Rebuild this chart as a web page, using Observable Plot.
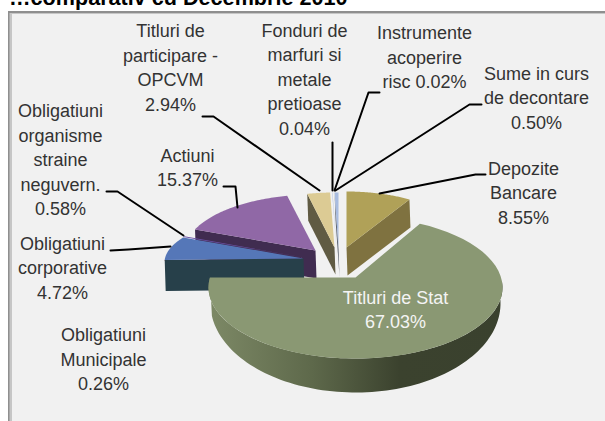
<!DOCTYPE html>
<html>
<head>
<meta charset="utf-8">
<script src="https://cdn.jsdelivr.net/npm/d3@7"></script>
<script src="https://cdn.jsdelivr.net/npm/@observablehq/plot@0.6"></script>
<style>
html,body{margin:0;padding:0;background:#fff;overflow:hidden;width:605px;height:421px}
#title{position:absolute;left:9px;top:-12.5px;font:bold 21.6px "Liberation Sans",Arial,sans-serif;color:#000;white-space:nowrap;line-height:20px}
#chart{position:absolute;left:0;top:11px}
</style>
</head>
<body>
<div id="title">…comparativ cu Decembrie 2010</div>
<div id="chart"></div>
<script>
// Data
const categories = ["Depozite Bancare","Titluri de Stat","Obligatiuni Municipale","Obligatiuni corporative","Obligatiuni organisme straine neguvern.","Actiuni","Titluri de participare - OPCVM","Fonduri de marfuri si metale pretioase","Instrumente acoperire risc","Sume in curs de decontare"];
const shares = [8.55,67.03,0.26,4.72,0.58,15.37,2.94,0.04,0.02,0.50];
const labels = ["Depozite\nBancare\n8.55%","Titluri de Stat\n67.03%","Obligatiuni\nMunicipale\n0.26%","Obligatiuni\ncorporative\n4.72%","Obligatiuni\norganisme\nstraine\nneguvern.\n0.58%","Actiuni\n15.37%","Titluri de\nparticipare -\nOPCVM\n2.94%","Fonduri de\nmarfuri si\nmetale\npretioase\n0.04%","Instrumente\nacoperire\nrisc 0.02%","Sume in curs\nde decontare\n0.50%"];

// Layout of the exploded 3D pie (picture space)
const W = 605, H = 421, TOP = 11;
const total = d3.sum(shares);
const ends = Array.from(d3.cumsum(shares), v => v / total * 360);
const starts = ends.map((e, i) => i ? ends[i - 1] : 0);
const rad = d => d * Math.PI / 180;

const pose = {
  "Depozite Bancare":{ax:346,ay:247,cx:346,cy:247,rx:123,ry:56,ds:0,de:0,depth:28,edge:"end",top:"#b0a158",side:"#7f7240"},
  "Titluri de Stat":{ax:355,ay:277,cx:355,cy:287,rx:147,ry:71,ds:-4.8,de:6,depth:34,edge:"rim",top:"#8a9873",side:"url(#rim)",
    bottom:{cx:355,cy:303,rx:145,ry:89,from:85,to:262}},
  "Obligatiuni Municipale":{ax:303,ay:258,cx:303,cy:262,rx:139,ry:50,ds:0,de:0,depth:0,edge:"none",top:"#a04f4c",side:"#a04f4c"},
  "Obligatiuni corporative":{ax:303,ay:258,cx:303,cy:262,rx:139,ry:50,ds:0,de:10,depth:31,edge:"start",top:"#5577b8",side:"#27404a"},
  "Obligatiuni organisme straine neguvern.":{ax:303,ay:257,cx:303,cy:262,rx:139,ry:51,ds:10,de:9,depth:0,edge:"none",top:"#6a52a6",side:"#6a52a6"},
  "Actiuni":{ax:315,ay:250,cx:315,cy:250,rx:130,ry:56,ds:0,de:0,depth:28,edge:"start",top:"#9068a6",side:"#402c50"},
  "Titluri de participare - OPCVM":{ax:334,ay:247,cx:334,cy:247,rx:125,ry:55,ds:0,de:0,depth:27,edge:"start",top:"#dccb94",side:"#605b43"},
  "Fonduri de marfuri si metale pretioase":{ax:336,ay:248,cx:336,cy:248,rx:125,ry:56,ds:0,de:0,depth:0,edge:"none",top:"#a8bce0",side:"#a8bce0"},
  "Instrumente acoperire risc":{ax:336,ay:248,cx:336,cy:248,rx:125,ry:56,ds:0,de:0,depth:0,edge:"none",top:"#a8bce0",side:"#a8bce0"},
  "Sume in curs de decontare":{ax:338,ay:248,cx:338,cy:248,rx:125,ry:56,ds:0,de:0,depth:28,edge:"start",top:"#a8bce0",side:"#59606c"}
};
const drawOrder = ["Actiuni","Obligatiuni Municipale","Obligatiuni corporative","Obligatiuni organisme straine neguvern.","Titluri de participare - OPCVM","Fonduri de marfuri si metale pretioase","Instrumente acoperire risc","Sume in curs de decontare","Depozite Bancare","Titluri de Stat"];

const rim = (p, t) => ({x: p.cx + p.rx * Math.sin(rad(t)), y: p.cy - p.ry * Math.cos(rad(t))});
const polygons = [];
for (const name of drawOrder) {
  const i = categories.indexOf(name), p = pose[name];
  const t0 = starts[i] + p.ds, t1 = ends[i] + p.de;
  const arc = d3.range(0, 61).map(k => rim(p, t0 + (t1 - t0) * k / 60));
  const apex = {x: p.ax, y: p.ay};
  if (p.edge === "rim") {
    const b = p.bottom;
    const topArc = d3.range(0, 91).map(k => rim(p, b.from + (t1 - b.from) * k / 90));
    const lowArc = d3.range(0, 91).map(k => rim(b, b.to + (b.from - b.to) * k / 90));
    polygons.push({fill: p.side, pts: [...topArc, ...lowArc]});
  } else if (p.edge !== "none") {
    const r = p.edge === "start" ? arc[0] : arc[60];
    polygons.push({fill: p.side, pts: [r, apex, {x: apex.x + 1, y: apex.y + p.depth}, {x: r.x + 1, y: r.y + p.depth}]});
  }
  polygons.push({fill: p.top, pts: [apex, ...arc]});
}

// Label placement and leader lines
const labelAt = {
  "Depozite Bancare":[523,191],"Titluri de Stat":[395,307.5],"Obligatiuni Municipale":[103,357.5],
  "Obligatiuni corporative":[62,266],"Obligatiuni organisme straine neguvern.":[60,158],"Actiuni":[187,165.5],
  "Titluri de participare - OPCVM":[170,65.5],"Fonduri de marfuri si metale pretioase":[304,77.5],
  "Instrumente acoperire risc":[424,55.5],"Sume in curs de decontare":[536,96]
};
const labelRows = categories.map((c, i) => ({text: labels[i], x: labelAt[c][0], y: labelAt[c][1], fill: c === "Titluri de Stat" ? "#f4f4f4" : "#333333"}));
const leaders = [
  [[485,174],[475,174],[379,193]],
  [[202,116],[213,116],[319,190]],
  [[223,186],[235,186],[237,207]],
  [[106,191],[117,191],[183,235]],
  [[110,250],[128,249],[170,246]],
  [[332,142],[332,190]],
  [[379,92],[368,92],[334,190]],
  [[481,104],[469,104],[335,190]]
];

const rimDefs = () => {
  const defs = d3.create("svg:defs");
  const g = defs.append("linearGradient").attr("id", "rim");
  [[0,"#7d8966"],[.35,"#5e694b"],[.65,"#3b422e"],[1,"#3a412e"]].forEach(([o, c]) => g.append("stop").attr("offset", o).attr("stop-color", c));
  return defs.node();
};

const plot = Plot.plot({
  width: W, height: H - TOP, margin: 0,
  x: {domain: [0, W], range: [0, W], axis: null},
  y: {domain: [TOP, H], range: [0, H - TOP], axis: null},
  style: {background: "transparent", overflow: "visible"},
  marks: [
    rimDefs,
    Plot.rect([0], {x1: 8, x2: W, y1: 11, y2: H, fill: "#8f8f8f"}),
    Plot.rect([0], {x1: 9.5, x2: W, y1: 13, y2: H, fill: "#c6c6c6"}),
    Plot.rect([0], {x1: 12, x2: W, y1: 14, y2: H, fill: "#f1f1f1"}),
    ...polygons.map(p => Plot.line(p.pts, {x: "x", y: "y", fill: p.fill, stroke: "none"})),
    ...leaders.map(l => Plot.line(l, {x: d => d[0], y: d => d[1], stroke: "#000", strokeWidth: 2, strokeLinejoin: "round"})),
    Plot.text(labelRows, {x: "x", y: "y", text: "text", fill: "fill", fontFamily: "'Liberation Sans',Arial,sans-serif", fontSize: 18, lineHeight: 1.36, textAnchor: "middle", lineAnchor: "middle"})
  ]
});
document.getElementById("chart").append(plot);
</script>
</body>
</html>
